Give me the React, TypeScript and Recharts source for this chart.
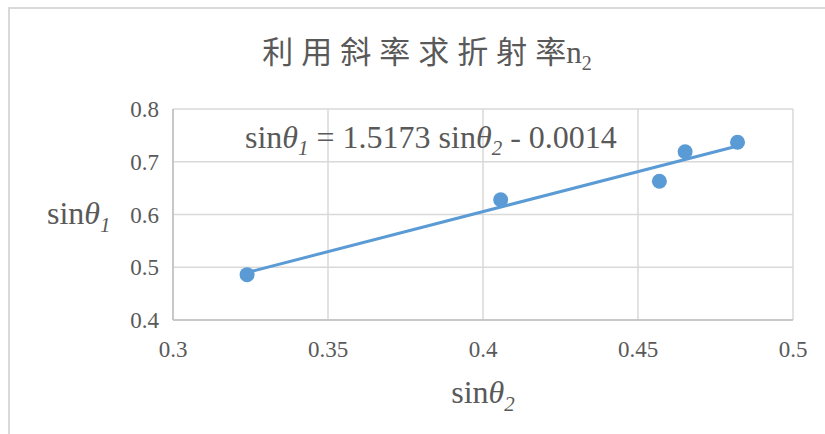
import React from 'react';
import { ScatterChart, Scatter, XAxis, YAxis, CartesianGrid, Label } from 'recharts';

// measured points (x = sinθ2, y = sinθ1)
const sinTheta2 = [0.3239, 0.4057, 0.4569, 0.4652, 0.4821];
const sinTheta1 = [0.486, 0.628, 0.663, 0.719, 0.737];

// linear trendline ends
const trendX = [0.3239, 0.4821];
const trendY = [0.49, 0.73];

const xTicks = [0.3, 0.35, 0.4, 0.45, 0.5];
const yTicks = [0.4, 0.5, 0.6, 0.7, 0.8];

const points = sinTheta2.map((x, i) => ({ x, y: sinTheta1[i] }));
const trend = trendX.map((x, i) => ({ x, y: trendY[i] }));

const BLUE = '#5b9bd5';
const TEXT = '#595959';
const SERIF = '"Liberation Serif", "Times New Roman", serif';
const CJK = '"Liberation Serif", "Noto Sans CJK TC", "Noto Sans CJK SC", serif';

function SinLabel({ x, y, sub, anchor }: { x: number; y: number; sub: string; anchor: string }) {
  return (
    <text x={x} y={y} textAnchor={anchor} fill={TEXT} fontSize={32} fontFamily={SERIF}>
      <tspan>sin</tspan>
      <tspan fontStyle="italic">θ</tspan>
      <tspan fontStyle="italic" fontSize={21} dy={8}>{sub}</tspan>
    </text>
  );
}

const XTick = (p: any) => (
  <text x={p.x} y={p.y} dy={14} textAnchor="middle" fill={TEXT} fontSize={23} fontFamily={SERIF}>
    {String(p.payload.value)}
  </text>
);

const YTick = (p: any) => (
  <text x={p.x} y={p.y} dy={8} textAnchor="end" fill={TEXT} fontSize={23} fontFamily={SERIF}>
    {String(p.payload.value)}
  </text>
);

const dot = (p: any) => <circle cx={p.cx} cy={p.cy} r={7.5} fill={BLUE} />;

export default function App() {
  return (
    <div
      style={{
        position: 'absolute',
        left: 8,
        top: 7,
        width: 817,
        height: 427,
        borderTop: '2px solid #d9d9d9',
        borderLeft: '2px solid #d9d9d9',
        background: '#fff',
        fontFamily: SERIF,
      }}
    >
      <div
        style={{
          position: 'absolute',
          left: 0,
          width: 834,
          top: 24,
          textAlign: 'center',
          fontFamily: CJK,
          fontSize: 31,
          color: TEXT,
          lineHeight: '40px',
          whiteSpace: 'nowrap',
        }}
      >
        <span style={{ letterSpacing: 8 }}>利用斜率求折射</span>率n
        <sub style={{ fontSize: 20 }}>2</sub>
      </div>
      <div
        style={{
          position: 'absolute',
          left: 235,
          top: 108,
          fontFamily: SERIF,
          fontSize: 32,
          color: TEXT,
          whiteSpace: 'nowrap',
          lineHeight: '40px',
          zIndex: 2,
        }}
      >
        sin<i>θ</i>
        <sub style={{ fontSize: 21, fontStyle: 'italic' }}>1</sub> = 1.5173 sin<i>θ</i>
        <sub style={{ fontSize: 21, fontStyle: 'italic' }}>2</sub> - 0.0014
      </div>
      <ScatterChart width={815} height={425} margin={{ top: 100, right: 32, bottom: 10, left: 10 }}>
        <CartesianGrid stroke="#d9d9d9" strokeWidth={1.5} />
        <XAxis
          type="number"
          dataKey="x"
          domain={[0.3, 0.5]}
          ticks={xTicks}
          height={104}
          stroke="#bfbfbf"
          strokeWidth={1.5}
          tickLine={false}
          tickMargin={17}
          tick={XTick}
        >
          <Label
            content={(props: any) => {
              const vb = props.viewBox || { x: 163, y: 311, width: 620 };
              return <SinLabel x={vb.x + vb.width / 2} y={vb.y + 83} sub="2" anchor="middle" />;
            }}
          />
        </XAxis>
        <YAxis
          type="number"
          dataKey="y"
          domain={[0.4, 0.8]}
          ticks={yTicks}
          width={153}
          stroke="#bfbfbf"
          strokeWidth={1.5}
          tickLine={false}
          tickMargin={8}
          tick={YTick}
        >
          <Label
            content={(props: any) => {
              const vb = props.viewBox || { x: 10, y: 100, height: 211 };
              return <SinLabel x={vb.x + 27} y={vb.y + vb.height / 2 + 9} sub="1" anchor="start" />;
            }}
          />
        </YAxis>
        <Scatter data={points} shape={dot} isAnimationActive={false} />
        <Scatter
          data={trend}
          line={{ stroke: BLUE, strokeWidth: 3 }}
          shape={() => null}
          isAnimationActive={false}
        />
      </ScatterChart>
    </div>
  );
}
